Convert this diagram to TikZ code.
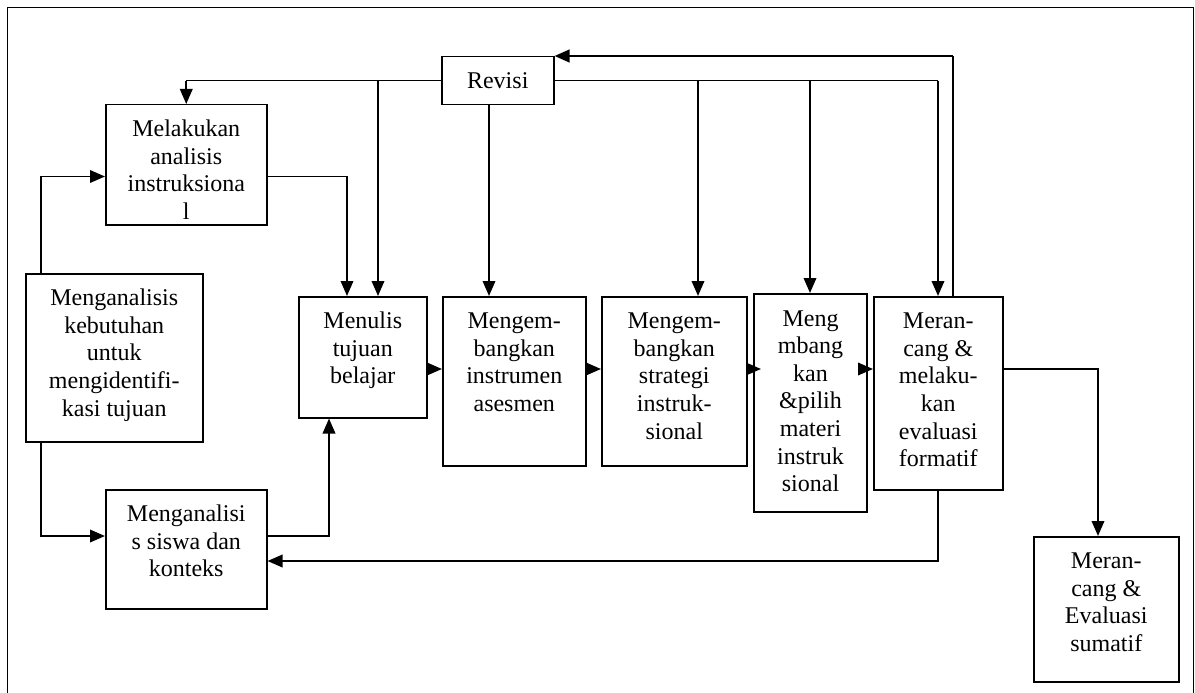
\documentclass[tikz,border=0pt]{standalone}
\usepackage{fontspec}
\setmainfont{Liberation Serif}
\usetikzlibrary{arrows.meta,calc}
\newcommand\bxt[3]{\parbox[c][#2pt][t]{#1pt}{\centering\vspace*{12.7pt}\strut #3\par}}
\begin{document}
\begin{tikzpicture}[x=1pt,y=-1pt,
  box/.style={draw, line width=1.5pt, inner sep=0pt, anchor=north west, fill=white,
    font=\fontsize{24}{27.6}\selectfont},
  conn/.style={line width=1.9pt},
  thinline/.style={line width=1.3pt},
  arr/.style={-{Triangle[length=15pt,width=12.5pt]}}]
\useasboundingbox (0,0) rectangle (1195,693);
\draw[line width=1.4pt] (7.5,693) -- (7.5,7.5) -- (1193.5,7.5) -- (1193.5,693);

% boxes
\node[box] (rev) at (441,56) {\parbox[c][48pt][c]{112pt}{\centering Revisi}};
\node[box] (melak) at (105,104) {\bxt{161}{120}{Melakukan\\analisis\\instruksiona\\l}};
\node[box] (keb) at (25,273) {\bxt{177}{168}{Menganalisis\\kebutuhan\\untuk\\mengidentifi-\\kasi tujuan}};
\node[box] (menulis) at (298,296) {\bxt{128}{121}{Menulis\\tujuan\\belajar}};
\node[box] (instr) at (442,296) {\bxt{143}{169}{Mengem-\\bangkan\\instrumen\\asesmen}};
\node[box] (strat) at (601,296) {\bxt{145}{169}{Mengem-\\bangkan\\strategi\\instruk-\\sional}};
\node[box, line width=2.1pt] (materi) at (753,293) {\bxt{113}{218}{Meng\\mbang\\kan\\\&pilih\\materi\\instruk\\sional}};
\node[box] (form) at (873,296) {\bxt{129}{193}{Meran-\\cang \&\\melaku-\\kan\\evaluasi\\formatif}};
\node[box] (siswa) at (105,489) {\bxt{161}{119}{Menganalisi\\s siswa dan\\konteks}};
\node[box] (sum) at (1033,536) {\bxt{145}{145}{Meran-\\cang \&\\Evaluasi\\sumatif}};

% helper coordinates
\coordinate (xb1) at (378,0);
\coordinate (xb2) at (489,0);
\coordinate (xb3) at (698,0);
\coordinate (xb4) at (810,0);
\coordinate (xb5) at (938,0);
\coordinate (xup) at (953,0);
\coordinate (xm) at (347,0);
\coordinate (xk) at (41,0);
\coordinate (xs) at (329,0);
\coordinate (xsum) at (1098,0);
\coordinate (ya) at (0,176.5);
\coordinate (yb) at (0,536);
\coordinate (yc) at (0,561);
\coordinate (yr) at (0,369);

% Revisi connectors
\draw[thinline] (rev.west) -- (rev.west -| melak.north);
\draw[conn,arr] (rev.west -| melak.north) -- (melak.north);
\draw[conn,arr] (rev.west -| xb1) -- (xb1 |- menulis.north);
\draw[conn,arr] (rev.south -| xb2) -- (xb2 |- instr.north);
\draw[thinline] (rev.east) -- (rev.east -| xb5);
\draw[conn,arr] (rev.east -| xb3) -- (xb3 |- strat.north);
\draw[conn,arr] (rev.east -| xb4) -- (xb4 |- materi.north);
\draw[conn,arr] (rev.east -| xb5) -- (xb5 |- form.north);
\draw[thinline] (form.north -| xup) -- (xup |- rev.north);
\draw[line width=2.5pt,arr] (xup |- rev.north) -- (rev.north east);

% left part
\draw[conn,arr] (keb.north -| xk) |- (melak.west |- ya);
\draw[conn,arr] (melak.east |- ya) -| (menulis.north -| xm);
\draw[conn,arr] (keb.south -| xk) |- (siswa.west |- yb);
\draw[conn,arr] (siswa.east |- yb) -| (menulis.south -| xs);

% row
\draw[conn,arr] (menulis.east |- yr) -- (instr.west |- yr);
\draw[conn,arr] (instr.east |- yr) -- (strat.west |- yr);
\draw[conn,arr] (strat.east |- yr) -- ($(materi.west |- yr)+(8,0)$);
\draw[conn,arr] (materi.east |- yr) -- (form.west |- yr);

% feedback and summative
\draw[conn,arr] (form.south -| xb5) |- (siswa.east |- yc);
\draw[conn,arr] (form.east |- yr) -| (sum.north -| xsum);
\end{tikzpicture}
\end{document}
